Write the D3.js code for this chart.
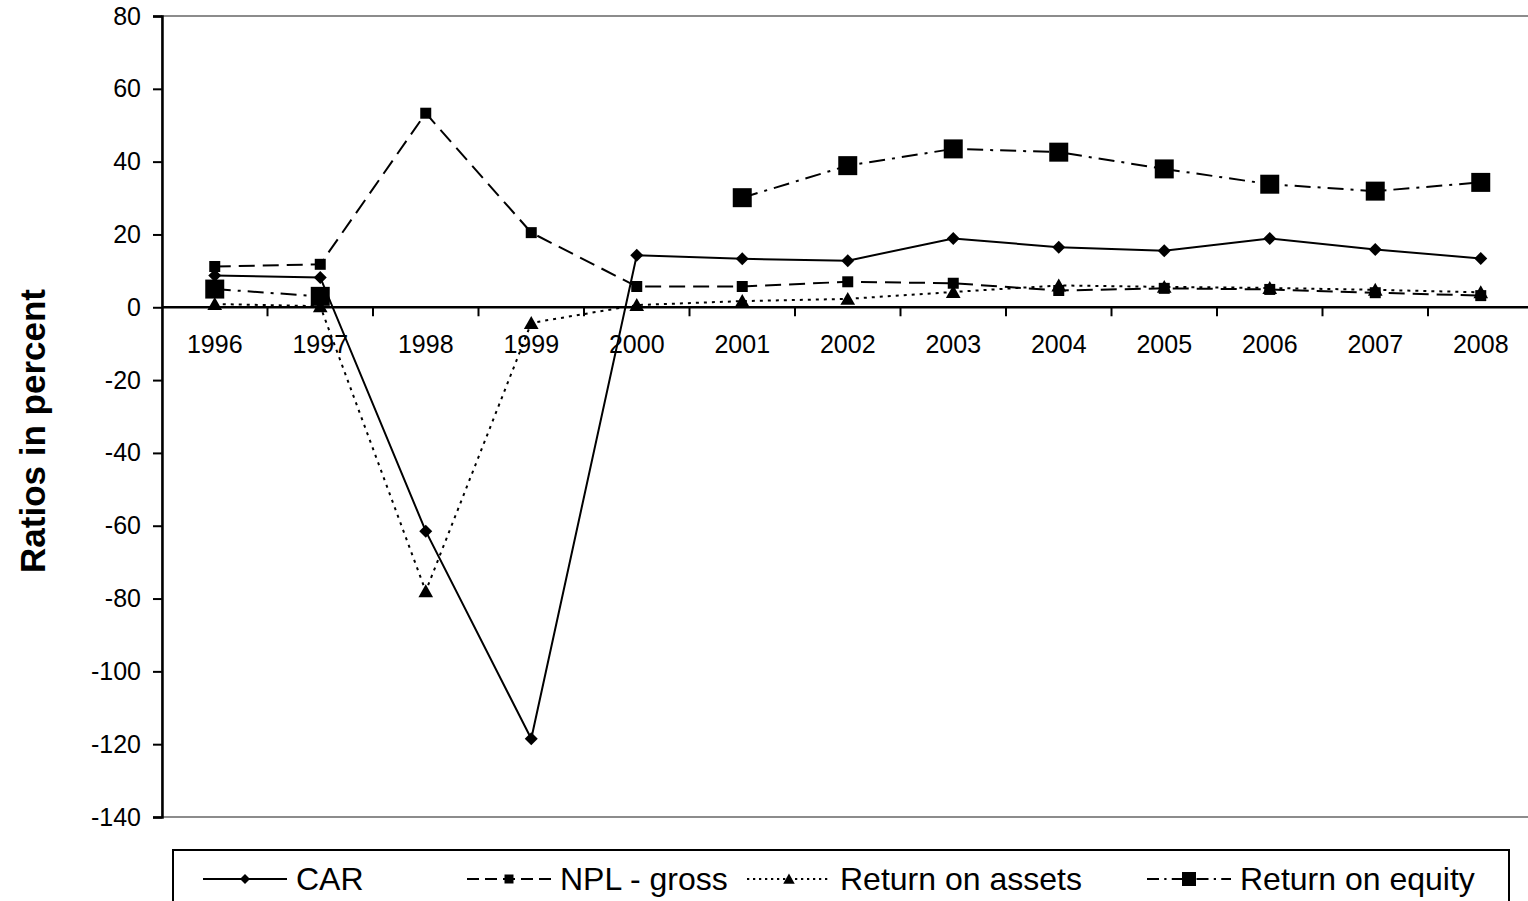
<!DOCTYPE html>
<html>
<head>
<meta charset="utf-8">
<script src="https://cdn.jsdelivr.net/npm/d3@7"></script>
<style>
  html, body { margin: 0; padding: 0; background: #fff; }
  svg { display: block; font-family: "Liberation Sans", Arial, sans-serif; }
</style>
</head>
<body>
<svg id="chart" width="1528" height="901"></svg>
<script>
// ---- data ----
const years = ["1996","1997","1998","1999","2000","2001","2002","2003","2004","2005","2006","2007","2008"];
const car   = [8.7, 8.2, -61.5, -118.5, 14.3, 13.3, 12.8, 18.9, 16.5, 15.5, 18.9, 15.9, 13.4];
const npl   = [11.2, 11.8, 53.3, 20.5, 5.7, 5.7, 7.0, 6.6, 4.6, 5.2, 4.9, 4.0, 3.2];
const roa   = [0.9, 0.3, -78.0, -4.3, 0.6, 1.7, 2.3, 4.2, 6.0, 5.6, 5.3, 4.8, 4.1];
const roe   = [5.0, 3.0, null, null, null, 30.1, 38.9, 43.5, 42.6, 38.0, 33.8, 31.9, 34.3];
const yTicks = [80, 60, 40, 20, 0, -20, -40, -60, -80, -100, -120, -140];
const seriesNames = ["CAR", "NPL - gross", "Return on assets", "Return on equity"];
const yLabel = "Ratios in percent";

(function () {
// ---- layout ----
const svg = d3.select("#chart");
const pLeft = 162, pTop = 16, pBottom = 817, bandW = 105.5;
const pRight = pLeft + bandW * years.length;

const x = d3.scaleBand().domain(years).range([pLeft, pRight]).padding(0);
const y = d3.scaleLinear().domain([-140, 80]).range([pBottom, pTop]);
const cx = d => x(d) + x.bandwidth() / 2;

// plot border (gray)
svg.append("rect").attr("x", pLeft).attr("y", pTop)
  .attr("width", pRight - pLeft).attr("height", pBottom - pTop)
  .attr("fill", "none").attr("stroke", "#8c8c8c").attr("stroke-width", 2);

// marker shapes
const shapes = {
  diamond: r => `M0,${-r}L${r},0L0,${r}L${-r},0Z`,
  square: r => `M${-r},${-r}H${r}V${r}H${-r}Z`,
  triangle: r => `M0,${-r}L${r*1.05},${r*0.85}L${-r*1.05},${r*0.85}Z`
};

const series = [
  { name: seriesNames[0], values: car, dash: null,          shape: "diamond",  r: 6.5, lr: 5 },
  { name: seriesNames[1], values: npl, dash: "16,8",        shape: "square",   r: 5.5, lr: 4.5 },
  { name: seriesNames[2], values: roa, dash: "3,5",         shape: "triangle", r: 7,   lr: 5.5 },
  { name: seriesNames[3], values: roe, dash: "16,7,3,7",    shape: "square",   r: 9.5, lr: 7 }
];

// y axis
const yAxis = d3.axisLeft(y).tickValues(yTicks).tickSize(9).tickPadding(12).tickFormat(d => String(d));
const gy = svg.append("g").attr("transform", `translate(${pLeft},0)`).call(yAxis);
gy.select(".domain").attr("stroke", "#000").attr("stroke-width", 2.5);
gy.selectAll(".tick line").attr("stroke", "#000").attr("stroke-width", 2);
gy.selectAll(".tick text").attr("font-size", 25).attr("fill", "#000")
  .attr("font-family", "'Liberation Sans', Arial, sans-serif");

// x axis at zero
const gx = svg.append("g").attr("transform", `translate(0,${y(0)})`);
gx.append("line").attr("x1", pLeft).attr("x2", pRight).attr("stroke", "#000").attr("stroke-width", 2.5);
gx.selectAll("line.tk").data(years.slice(1)).join("line").attr("class", "tk")
  .attr("x1", d => x(d)).attr("x2", d => x(d)).attr("y1", 0).attr("y2", 9)
  .attr("stroke", "#000").attr("stroke-width", 2);
gx.selectAll("text").data(years).join("text")
  .attr("x", d => cx(d)).attr("y", 46)
  .attr("text-anchor", "middle").attr("font-size", 25).attr("fill", "#000")
  .text(d => d);

// y label
svg.append("text")
  .attr("transform", `translate(45,431) rotate(-90)`)
  .attr("text-anchor", "middle").attr("font-size", 35).attr("font-weight", "bold")
  .attr("fill", "#000").text(yLabel);

// lines and markers
const line = d3.line().defined(d => d.v != null).x(d => cx(d.k)).y(d => y(d.v));
series.forEach(s => {
  const pts = years.map((k, i) => ({ k, v: s.values[i] }));
  svg.append("path").datum(pts).attr("d", line)
    .attr("fill", "none").attr("stroke", "#000").attr("stroke-width", 2)
    .attr("stroke-dasharray", s.dash);
  svg.append("g").selectAll("path").data(pts.filter(d => d.v != null)).join("path")
    .attr("transform", d => `translate(${cx(d.k)},${y(d.v)})`)
    .attr("d", shapes[s.shape](s.r)).attr("fill", "#000");
});

// legend
const lg = svg.append("g");
lg.append("rect").attr("x", 173).attr("y", 850).attr("width", 1336).attr("height", 80)
  .attr("fill", "#fff").attr("stroke", "#000").attr("stroke-width", 2);
const legendX = [203, 467, 747, 1147];
const ly = 879;
series.forEach((s, i) => {
  const x0 = legendX[i], x1 = x0 + 84;
  lg.append("line").attr("x1", x0).attr("x2", x1).attr("y1", ly).attr("y2", ly)
    .attr("stroke", "#000").attr("stroke-width", 2).attr("stroke-dasharray", s.dash ? s.dash.split(",").map(v => v * 0.75).join(",") : null);
  lg.append("path").attr("transform", `translate(${(x0 + x1) / 2},${ly})`)
    .attr("d", shapes[s.shape](s.lr)).attr("fill", "#000");
  lg.append("text").attr("x", x1 + 9).attr("y", ly + 11)
    .attr("font-size", 32).attr("fill", "#000").text(s.name);
});
})();
</script>
</body>
</html>
